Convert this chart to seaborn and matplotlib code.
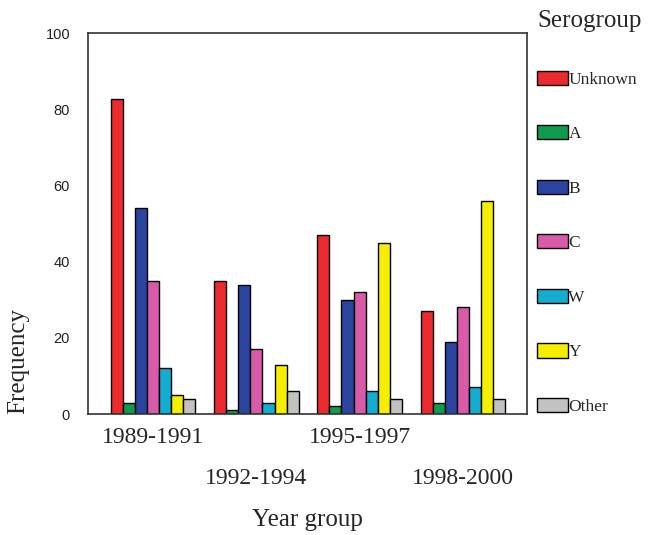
import matplotlib
matplotlib.use("Agg")
import matplotlib.pyplot as plt
import pandas as pd
import seaborn as sns

year_groups = ["1989-1991", "1992-1994", "1995-1997", "1998-2000"]
serogroups = ["Unknown", "A", "B", "C", "W", "Y", "Other"]

unknown = [82.6, 35, 47, 27]
group_a = [3, 1, 2, 3]
group_b = [54, 34, 30, 19]
group_c = [35, 17, 32, 28]
group_w = [12, 3, 6, 7]
group_y = [5, 13, 45, 56]
other = [4, 6, 4, 4]

colors = ["#ec2a2e", "#0f9b4d", "#2b44a0", "#d95aa8", "#14add0", "#f6ee00", "#c2c2c2"]

series = [unknown, group_a, group_b, group_c, group_w, group_y, other]
rows = []
for name, vals in zip(serogroups, series):
    for yg, v in zip(year_groups, vals):
        rows.append({"Year group": yg, "Serogroup": name, "Frequency": v})
df = pd.DataFrame(rows)

sns.set_style("white")
serif = ["Liberation Serif", "DejaVu Serif"]
sans = ["Liberation Sans", "DejaVu Sans"]

fig = plt.figure(figsize=(6.48, 5.35), dpi=100)
ax = fig.add_axes([0.136, 0.226, 0.677, 0.712])

sns.barplot(
    data=df, x="Year group", y="Frequency", hue="Serogroup",
    order=year_groups, hue_order=serogroups, palette=colors,
    width=0.82, edgecolor="black", linewidth=1.0, errorbar=None,
    saturation=1, ax=ax, legend=True,
)

ax.set_ylim(0, 100)
ax.set_xlim(-0.63, 3.62)
ax.set_yticks([0, 20, 40, 60, 80, 100])
for lab in ax.get_yticklabels():
    lab.set_fontfamily(sans)
    lab.set_fontsize(10.5)
    lab.set_color("#222222")
for lab in ax.get_xticklabels():
    lab.set_fontfamily(serif)
    lab.set_fontsize(17)
ax.tick_params(axis="y", direction="out", length=4, width=1, color="#333333", pad=9)
ax.tick_params(axis="x", direction="out", length=4, width=1, color="#333333")
for i, tick in enumerate(ax.xaxis.get_major_ticks()):
    tick.set_pad(5 if i % 2 == 0 else 35)

for sp in ax.spines.values():
    sp.set_visible(True)
    sp.set_color("#333333")
    sp.set_linewidth(1.2)

ax.set_xlabel("Year group", fontfamily=serif, fontsize=18, labelpad=14)
ax.set_ylabel("Frequency", fontfamily=serif, fontsize=18)
ax.yaxis.set_label_coords(-0.134, 0.139)

handles, labels = ax.get_legend_handles_labels()
ax.get_legend().remove()
leg = fig.legend(
    handles, labels, title="Serogroup", loc="upper left",
    bbox_to_anchor=(0.829, 0.982), frameon=False,
    prop={"family": serif, "size": 12.5}, labelspacing=2.15,
    handlelength=1.75, handleheight=0.9, handletextpad=0.05,
    borderaxespad=0, borderpad=0,
)
leg.get_title().set_fontfamily(serif)
leg.get_title().set_fontsize(18)
leg._legend_box.align = "left"
leg._legend_box.sep = 28

fig.savefig("out.png", dpi=100)
